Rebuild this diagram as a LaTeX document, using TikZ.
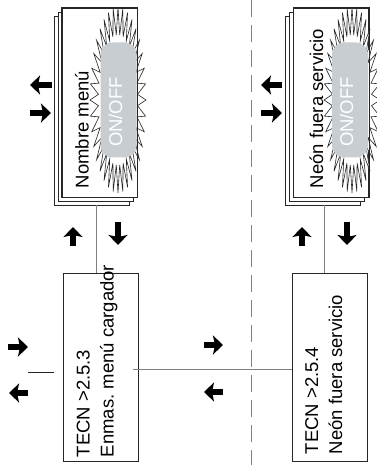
\documentclass[tikz,border=0pt]{standalone}
\usepackage{fontspec}
\setmainfont{Liberation Sans}
\usetikzlibrary{arrows.meta,shadows}
\definecolor{PGray}{HTML}{C8CDD2}
\definecolor{LGray}{HTML}{808080}

\begin{document}
\begin{tikzpicture}[x=1pt,y=1pt,
  frame/.style={draw=black!85,line width=0.8pt},
  stack/.style={frame,fill=white,minimum width=75pt,minimum height=189pt,
    double copy shadow={shadow xshift=-4pt,shadow yshift=-4pt}},
  tbox/.style={frame,minimum width=75pt,minimum height=188pt},
  pill/.style={fill=PGray,rounded corners=12pt,minimum width=36pt,minimum height=115pt},
  burst/.style={draw=black!85,line width=0.6pt,fill=white},
  txt/.style={rotate=90,inner sep=0pt,font=\fontsize{18.5pt}{24pt}\selectfont},
  blk/.style={line width=6pt,-{Stealth[length=10pt,width=19pt,inset=2pt]}},
  link/.style={draw=LGray,line width=0.8pt},
  sep/.style={draw=LGray,line width=0.8pt,dash pattern=on 17pt off 8pt}
]
  \useasboundingbox (0,0) rectangle (376,-465);

  % separator
  \coordinate (septop) at (251,0);
  \coordinate (sepbot) at (251,-465);
  \draw[sep] (septop) -- (sepbot);

  % menu stacks
  \node[stack] (lmenu) at (99.5,-102.5) {};
  \node[stack] (rmenu) at (331,-102.5) {};
  \coordinate (lc) at (118,-100);
  \coordinate (rc) at (352,-100);
  \foreach \c in {lc,rc}
    \draw[burst,shift={(\c)}] plot[variable=\k,domain=0:71,samples=72]
      ({28*(1-0.3*mod(\k,2))*cos(5*\k)},{93*(1-0.3*mod(\k,2))*sin(5*\k)}) -- cycle;
  \node[pill] (lpill) at ([xshift=0.5pt]lc) {};
  \node[pill] (rpill) at ([xshift=-2pt]rc) {};
  \node[txt,text=white,anchor=base] at ([shift={(3.5pt,-12pt)}]lpill.center) {ON/OFF};
  \node[txt,text=white,anchor=base] at ([shift={(3pt,-12pt)}]rpill.center) {ON/OFF};
  \node[txt,anchor=base west] (lname) at ([shift={(27pt,9pt)}]lmenu.south west) {Nombre menú};
  \node[txt,anchor=base west] (rname) at ([shift={(30pt,9pt)}]rmenu.south west) {Neón fuera servicio};
  \draw[frame] (lmenu.south west) rectangle (lmenu.north east);
  \draw[frame] (rmenu.south west) rectangle (rmenu.north east);

  % parameter boxes
  \node[tbox] (ltecn) at (100.5,-367) {};
  \node[tbox] (rtecn) at (330,-367) {};
  \node[txt,anchor=north west,align=left] at ([shift={(14pt,4pt)}]ltecn.south west)
    {TECN >2.5.3\\Enmas.\ menú cargador};
  \node[txt,anchor=north west,align=left] at ([shift={(13pt,7pt)}]rtecn.south west)
    {TECN >2.5.4\\Neón fuera servicio};

  % connectors
  \draw[link] ([shift={(-3.5pt,-8pt)}]lmenu.south) -- ([xshift=-4.5pt]ltecn.north);
  \draw[link] ([shift={(-7pt,-8pt)}]rmenu.south) -- ([xshift=-6pt]rtecn.north);
  \draw[link] ([shift={(-5pt,-2pt)}]ltecn.east) -- ([yshift=-2pt]rtecn.west);
  \coordinate (stubl) at (28,-372);
  \coordinate (stubr) at (54,-372);
  \draw[frame] (stubl) -- (stubr);

  % navigation arrows
  \draw[blk] (52,-85) -- (30,-85);
  \draw[blk] (30,-113) -- (51,-113);
  \draw[blk] (282,-85) -- (261,-85);
  \draw[blk] (261,-113) -- (282,-113);
  \draw[blk] (73,-246) -- (73,-227);
  \draw[blk] (118,-222) -- (118,-245);
  \draw[blk] (302,-246) -- (302,-227);
  \draw[blk] (347,-222) -- (347,-245);
  \draw[blk] (8,-347) -- (28,-347);
  \draw[blk] (28,-393) -- (9,-393);
  \draw[blk] (204,-345) -- (223,-345);
  \draw[blk] (223,-392) -- (204,-392);
\end{tikzpicture}
\end{document}
